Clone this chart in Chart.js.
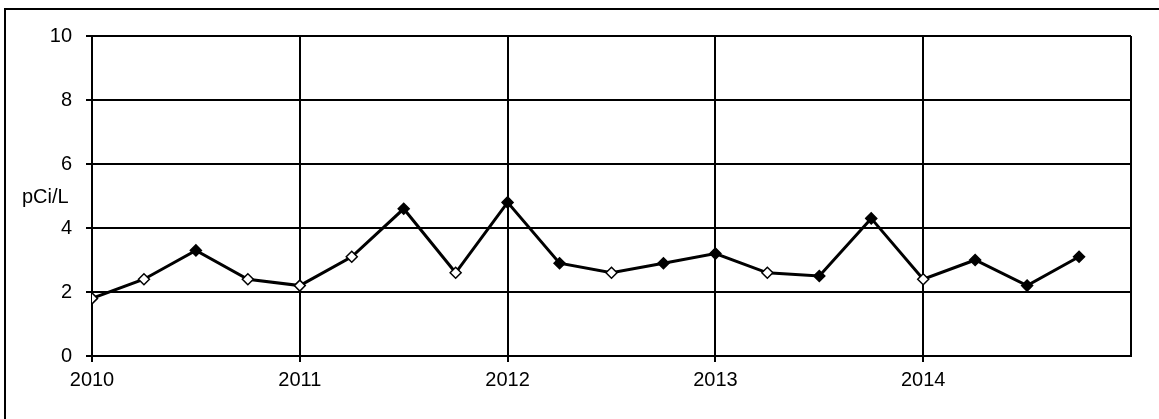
<!DOCTYPE html>
<html>
<head>
<meta charset="utf-8">
<script src="https://cdn.jsdelivr.net/npm/chart.js@4/dist/chart.umd.min.js"></script>
<style>
  html, body { margin: 0; padding: 0; background: #fff; }
  #c { display: block; }
</style>
</head>
<body>
<canvas id="c" width="1159" height="419"></canvas>
<script>
// ---- data ----
const sampleDates = [2010.00, 2010.25, 2010.50, 2010.75, 2011.00, 2011.25, 2011.50, 2011.75,
                     2012.00, 2012.25, 2012.50, 2012.75, 2013.00, 2013.25, 2013.50, 2013.75,
                     2014.00, 2014.25, 2014.50, 2014.75];
const concentrations = [1.8, 2.4, 3.3, 2.4, 2.2, 3.1, 4.6, 2.6,
                        4.8, 2.9, 2.6, 2.9, 3.2, 2.6, 2.5, 4.3,
                        2.4, 3.0, 2.2, 3.1];
// true = solid marker, false = open marker (as in the original)
const solidMarker = [false, false, true, false, false, false, true, false,
                     true, true, false, true, true, false, true, true,
                     false, true, true, true];
const yearTicks = [2010, 2011, 2012, 2013, 2014];
const yTicks = [0, 2, 4, 6, 8, 10];
const unitLabel = 'pCi/L';

const FONT = "'Liberation Sans', Arial, Helvetica, sans-serif";
const FS = 20;

const points = sampleDates.map((d, i) => ({ x: d, y: concentrations[i] }));

const framePlugin = {
  id: 'frame',
  afterDraw(chart) {
    const ctx = chart.ctx;
    ctx.save();
    ctx.strokeStyle = '#000';
    ctx.lineWidth = 2;
    ctx.beginPath();
    ctx.moveTo(4, 9);
    ctx.lineTo(chart.width, 9);
    ctx.stroke();
    ctx.beginPath();
    ctx.moveTo(5, 9);
    ctx.lineTo(5, chart.height);
    ctx.stroke();
    // unit label
    const ys = chart.scales.y;
    ctx.fillStyle = '#000';
    ctx.font = FS + 'px ' + FONT;
    ctx.textAlign = 'left';
    ctx.textBaseline = 'middle';
    ctx.fillText(unitLabel, 22, ys.getPixelForValue(5) + 1);
    ctx.restore();
  }
};

new Chart(document.getElementById('c'), {
  type: 'scatter',
  data: {
    datasets: [{
      data: points,
      showLine: true,
      borderColor: '#000',
      borderWidth: 3,
      tension: 0,
      pointStyle: 'rectRot',
      pointRadius: 5.5,
      pointHoverRadius: 5.5,
      pointBorderWidth: 1.5,
      pointBorderColor: '#000',
      pointBackgroundColor: ctx => solidMarker[ctx.dataIndex] ? '#000' : '#fff'
    }]
  },
  options: {
    responsive: false,
    animation: false,
    events: [],
    layout: { padding: { left: 0, top: 36, right: 28, bottom: 0 } },
    plugins: {
      legend: { display: false },
      tooltip: { enabled: false },
      title: { display: false }
    },
    scales: {
      x: {
        type: 'linear',
        min: 2010,
        max: 2015,
        afterBuildTicks: s => { s.ticks = yearTicks.concat([2015]).map(v => ({ value: v })); },
        ticks: {
          color: '#000',
          font: { family: FONT, size: FS },
          padding: 6,
          maxRotation: 0,
          autoSkip: false,
          callback: v => yearTicks.includes(v) ? String(v) : ''
        },
        grid: {
          color: '#000',
          lineWidth: 2,
          tickLength: 6,
          tickColor: c => (c.tick && yearTicks.includes(c.tick.value)) ? '#000' : 'rgba(0,0,0,0)',
          drawTicks: true
        },
        border: { color: '#000', width: 2 },
        afterFit: s => { s.height = 63; }
      },
      y: {
        min: 0,
        max: 10,
        afterBuildTicks: s => { s.ticks = yTicks.map(v => ({ value: v })); },
        ticks: {
          color: '#000',
          font: { family: FONT, size: FS },
          padding: 14
        },
        grid: {
          color: '#000',
          lineWidth: 2,
          tickLength: 6,
          tickColor: '#000'
        },
        border: { color: '#000', width: 2 },
        afterFit: s => { s.width = 92; }
      }
    }
  },
  plugins: [framePlugin]
});
</script>
</body>
</html>
